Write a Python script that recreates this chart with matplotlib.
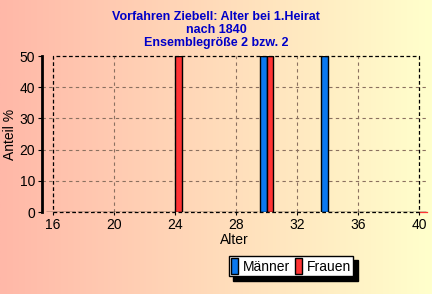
import matplotlib
matplotlib.use('Agg')
import matplotlib.pyplot as plt
import numpy as np
from matplotlib.colors import LinearSegmentedColormap

plt.rcParams['font.family'] = ['Liberation Sans', 'DejaVu Sans']

# Alter bei 1. Heirat, Anteil in %
alter = np.arange(16, 41)
maenner = np.zeros(len(alter))
frauen = np.zeros(len(alter))
maenner[alter == 30] = 50
maenner[alter == 34] = 50
frauen[alter == 24] = 50
frauen[alter == 30] = 50

xticks = [16, 20, 24, 28, 32, 36, 40]
yticks = [0, 10, 20, 30, 40, 50]

fig = plt.figure(figsize=(4.32, 2.94), dpi=100)

# background gradient salmon -> pale yellow
bg = fig.add_axes([0, 0, 1, 1], zorder=-10)
cmap = LinearSegmentedColormap.from_list('bg', ['#ffb8a8', '#ffffcc'])
bg.imshow(np.linspace(0, 1, 256)[None, :], aspect='auto', cmap=cmap, extent=[0, 1, 0, 1])
bg.axis('off')

ax = fig.add_axes([42 / 432, 1 - 212 / 294, 385 / 432, 156 / 294])
ax.patch.set_alpha(0)

w = 0.45
ax.bar(alter - w / 2, maenner, width=w, color='#0a78f0', edgecolor='black', linewidth=1, label='Männer', zorder=3)
ax.bar(alter + w / 2, frauen, width=w, color='#ff3434', edgecolor='black', linewidth=1, label='Frauen', zorder=3)

ax.set_xlim(15.28, 40.52)
ax.set_ylim(0, 50)

# grid
for x in xticks[1:-1]:
    ax.axvline(x, color='#8a7060', linestyle=(0, (3, 3)), linewidth=0.8, zorder=1)
for y in yticks[1:-1]:
    ax.axhline(y, color='#8a7060', linestyle=(0, (3, 3)), linewidth=0.8, zorder=1)
# dashed frame
ax.plot([16, 40, 40, 16, 16], [0, 0, 50, 50, 0], color='black', linestyle=(0, (3, 2)),
        linewidth=0.9, zorder=4, clip_on=False)
ax.plot([40, 40.52], [0, 0], color='#ff3434', linewidth=0.9, clip_on=False)

for s in ['top', 'right', 'bottom']:
    ax.spines[s].set_visible(False)
ax.spines['left'].set_linewidth(2)

ax.set_xticks(xticks)
ax.set_yticks(yticks)
ax.tick_params(axis='both', labelsize=10, length=3, width=0.8, pad=2)
ax.tick_params(axis='x', length=2)

ax.set_xlabel('Alter', fontsize=10, labelpad=1)
ax.set_ylabel('Anteil %', fontsize=10, labelpad=2)

fig.text(0.5, 1 - 30 / 294, 'Vorfahren Ziebell: Alter bei 1.Heirat\nnach 1840\nEnsemblegröße 2 bzw. 2',
         ha='center', va='center', fontsize=9, fontweight='bold', color='#0000c8', linespacing=1.1)

leg = ax.legend(loc='center', bbox_to_anchor=(291 / 432, 1 - 266 / 294), bbox_transform=fig.transFigure,
                ncol=2, fontsize=10, frameon=True, fancybox=False,
                shadow={'color': 'black', 'alpha': 1, 'ox': 3, 'oy': -3},
                edgecolor='black', framealpha=1, handlelength=0.5, handleheight=1.3, handletextpad=0.3,
                columnspacing=0.4, borderpad=0.2, borderaxespad=0)
leg.get_frame().set_linewidth(1)

fig.savefig('out.png', dpi=100)
